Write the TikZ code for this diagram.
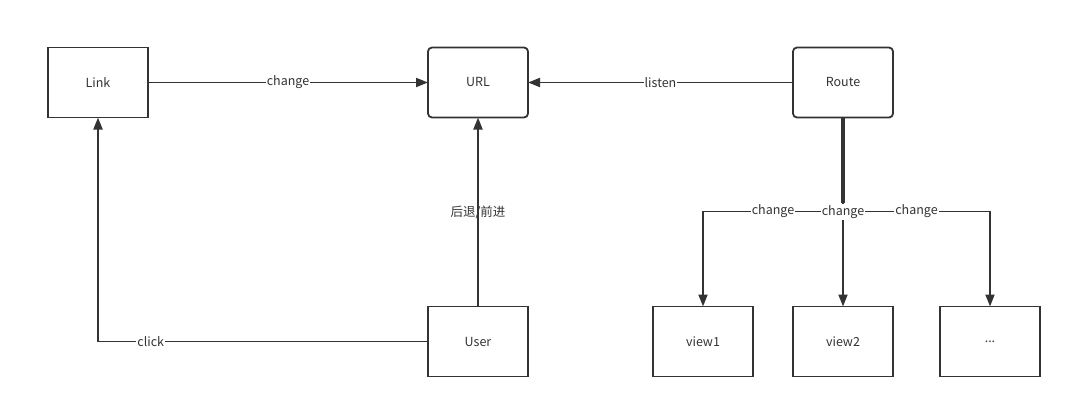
\documentclass[tikz,border=0pt]{standalone}
\usepackage{fontspec}
\setmainfont{Noto Sans CJK SC}
\usetikzlibrary{positioning,arrows.meta}
\definecolor{linegray}{HTML}{333333}

\begin{document}
\begin{tikzpicture}[x=1pt, y=1pt, color=linegray, line width=1.8pt, font=\fontsize{12.5}{14}\selectfont, box/.style={rectangle, draw, minimum width=100pt, minimum height=70pt, inner sep=0pt, outer sep=0pt, align=center}, roundbox/.style={box, rounded corners=4pt}, flow/.style={-{Triangle[length=12pt,width=9pt]}}, tag/.style={fill=white, inner sep=1pt}]
\useasboundingbox (0,0) rectangle (1072,408);

% BOXES

\node [box] (Link) at (98,325.5) {Link};
\node [roundbox, right=280pt of Link] (URL) {URL};
\node [roundbox, right=265pt of URL] (Route) {Route};
\node [box, below=189pt of URL] (User) {User};
\node [box, below=189pt of Route] (view2) {view2};
\node [box, left=40pt of view2] (view1) {view1};
\node [box, right=47pt of view2] (dots) {...};

\coordinate [below=94pt of Route.south] (split);

% ARROWS

\draw [flow] (Link) -- node[tag] {change} (URL);
\draw [flow] (Route) -- node[tag] {listen} (URL);
\draw [flow] (User) -- node[tag, fill=none] {后退/前进} (URL);
\draw [flow] (User.west) -| node[tag, pos=0.42] {click} (Link.south);

\draw [flow] (Route.south) -- (split) -- node[tag] {change} (split -| view1) -- (view1.north);
\draw [flow] (Route.south) -- (split) -- node[tag] {change} (split -| dots) -- (dots.north);
\draw [flow] (Route.south) -- node[tag] {change} (view2.north);
\draw [line width=3.6pt] (Route.south) -- ([yshift=9pt]split);

\end{tikzpicture}
\end{document}
